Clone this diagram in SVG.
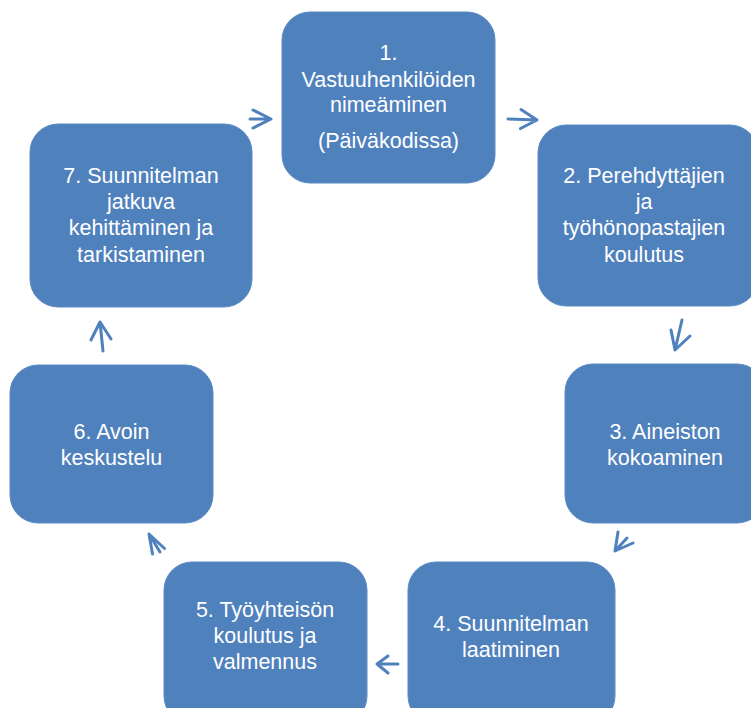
<svg xmlns="http://www.w3.org/2000/svg" width="751" height="708" viewBox="0 0 751 708">
<style>
.box{fill:#4f81bd;stroke:#5a8ac4;stroke-width:1}
.lbl{font-family:"Liberation Sans",Arial,sans-serif;font-size:21.5px;fill:#ffffff;text-anchor:middle}
.arr{fill:none;stroke:#4f81bd;stroke-width:3;stroke-linecap:round;stroke-linejoin:round}
</style>
<rect width="751" height="708" fill="#ffffff"/>
<g id="node1">
<rect class="box" x="282" y="12" width="213" height="171" rx="28"/>
<text class="lbl"><tspan x="388.5" y="60">1.</tspan><tspan x="388.5" y="86.5">Vastuuhenkilöiden</tspan><tspan x="388.5" y="112">nimeäminen</tspan><tspan x="388.5" y="148">(Päiväkodissa)</tspan></text>
</g>
<g id="node2">
<rect class="box" x="538" y="125" width="220" height="181" rx="28"/>
<text class="lbl"><tspan x="644" y="183">2. Perehdyttäjien</tspan><tspan x="644" y="208.5">ja</tspan><tspan x="644" y="235">työhönopastajien</tspan><tspan x="644" y="261.5">koulutus</tspan></text>
</g>
<g id="node3">
<rect class="box" x="565" y="364" width="200" height="159" rx="28"/>
<text class="lbl"><tspan x="665" y="438.5">3. Aineiston</tspan><tspan x="665" y="465">kokoaminen</tspan></text>
</g>
<g id="node4">
<rect class="box" x="408" y="562" width="207" height="162" rx="28"/>
<text class="lbl"><tspan x="511" y="631">4. Suunnitelman</tspan><tspan x="511" y="657">laatiminen</tspan></text>
</g>
<g id="node5">
<rect class="box" x="164" y="562" width="203" height="162" rx="28"/>
<text class="lbl"><tspan x="265" y="616.5">5. Työyhteisön</tspan><tspan x="265" y="643">koulutus ja</tspan><tspan x="265" y="669">valmennus</tspan></text>
</g>
<g id="node6">
<rect class="box" x="10" y="365" width="203" height="158" rx="28"/>
<text class="lbl"><tspan x="111.5" y="438.5">6. Avoin</tspan><tspan x="111.5" y="465">keskustelu</tspan></text>
</g>
<g id="node7">
<rect class="box" x="30" y="124" width="222" height="183" rx="28"/>
<text class="lbl"><tspan x="141" y="182.5">7. Suunnitelman</tspan><tspan x="141" y="208.5">jatkuva</tspan><tspan x="141" y="235">kehittäminen ja</tspan><tspan x="141" y="261.5">tarkistaminen</tspan></text>
</g>
<g id="connectors">
<path class="arr" d="M250,119 L271,119 M253,110 L271,119 L253,128"/>
<path class="arr" d="M508,119 L537,120 M521,109.5 L537,120 L520.5,128.5"/>
<path class="arr" d="M682,320 L675,350 M671,330 L675,350 L690,336"/>
<path class="arr" d="M627,538 L615,551 M618,532 L615,551 L633,543"/>
<path class="arr" d="M398,664 L377,664 M388,656 L377,664 L388,673"/>
<path class="arr" d="M160,552 L149,534 M152.5,554 L149,534 L164.5,548.5"/>
<path class="arr" d="M103,351 L100,322 M91,340 L100,322 L111,339"/>
</g>
</svg>
